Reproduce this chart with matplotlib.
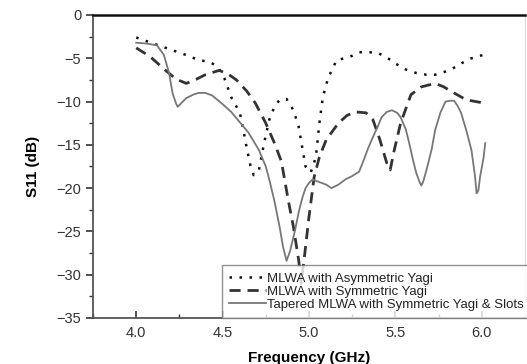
import matplotlib
matplotlib.use('Agg')
import matplotlib.pyplot as plt
from matplotlib.ticker import MultipleLocator

plt.rcParams['font.family'] = ['Liberation Sans', 'DejaVu Sans']

# MLWA with Asymmetric Yagi (dotted)
f_asym = [4.0, 4.1, 4.2, 4.3, 4.36, 4.42, 4.47, 4.51, 4.55, 4.60, 4.62, 4.64, 4.66, 4.68,
          4.71, 4.74, 4.77, 4.80, 4.83, 4.87, 4.91, 4.94, 4.96, 4.98, 5.01, 5.04, 5.06,
          5.08, 5.11, 5.16, 5.23, 5.29, 5.35, 5.40, 5.45, 5.50, 5.56, 5.62, 5.68, 5.73,
          5.78, 5.83, 5.88, 5.94, 6.01]
s_asym = [-2.6, -3.3, -4.0, -4.7, -5.2, -5.4, -5.9, -7.3, -9.5, -11.3, -13.3, -15.4, -17.3, -18.5,
          -17.9, -14.8, -12.1, -10.6, -9.8, -9.7, -11.0, -12.9, -15.2, -17.5, -18.2, -16.4, -12.5,
          -9.5, -7.3, -5.2, -4.9, -4.3, -4.3, -4.4, -4.9, -5.6, -6.3, -6.7, -6.9, -6.9,
          -6.6, -6.2, -5.6, -5.0, -4.6]

# MLWA with Symmetric Yagi (dashed)
f_sym = [4.0, 4.08, 4.17, 4.23, 4.29, 4.35, 4.40, 4.48, 4.53, 4.58, 4.64, 4.69, 4.75,
         4.80, 4.84, 4.88, 4.91, 4.94, 4.955, 4.98, 5.0, 5.03, 5.06, 5.10, 5.17, 5.22, 5.27, 5.33,
         5.37, 5.41, 5.45, 5.47, 5.49, 5.53, 5.59, 5.65, 5.73, 5.78, 5.83, 5.91, 6.02]
s_sym = [-3.8, -4.8, -6.4, -7.4, -7.9, -7.4, -6.9, -6.4, -6.8, -7.5, -8.8, -10.2, -12.5,
         -14.8, -16.9, -21.4, -24.5, -28.3, -31.0, -26.8, -23.3, -18.7, -16.4, -14.4, -12.5, -11.6, -11.2, -11.3,
         -12.1, -14.4, -17.1, -17.9, -15.9, -12.5, -9.2, -8.3, -7.9, -8.3, -8.9, -9.8, -10.2]

# Tapered MLWA with Symmetric Yagi & Slots (solid)
f_tap = [4.0, 4.06, 4.12, 4.16, 4.19, 4.21, 4.23, 4.24, 4.26, 4.29, 4.33, 4.36, 4.40,
         4.44, 4.50, 4.55, 4.60, 4.65, 4.71, 4.75, 4.77, 4.80, 4.83, 4.85, 4.87,
         4.89, 4.92, 4.94, 4.96, 4.98, 5.0, 5.02, 5.06, 5.10, 5.13, 5.17, 5.21, 5.25,
         5.29, 5.31, 5.34, 5.37, 5.40, 5.42, 5.45, 5.48, 5.51, 5.53, 5.56, 5.58, 5.60,
         5.62, 5.64, 5.65, 5.66, 5.68, 5.71, 5.73, 5.76, 5.79, 5.82, 5.84, 5.86, 5.88,
         5.91, 5.94, 5.96, 5.97, 5.98, 5.99, 6.01, 6.02]
s_tap = [-3.2, -3.3, -3.5, -4.6, -6.7, -9.0, -10.2, -10.6, -10.2, -9.6, -9.2, -9.0, -9.0,
         -9.3, -10.3, -11.2, -12.4, -13.6, -15.6, -17.5, -19.0, -21.5, -24.5, -26.8, -28.4,
         -27.3, -24.8, -22.8, -21.2, -20.0, -19.4, -19.0, -19.3, -19.6, -20.0, -19.6, -19.0, -18.6,
         -18.1, -17.1, -15.5, -14.1, -12.8, -11.8, -11.2, -11.0, -11.3, -11.8, -13.2, -14.8, -16.6,
         -18.2, -19.3, -19.7, -19.3, -17.9, -15.5, -13.3, -11.3, -10.0, -9.9, -9.9, -10.5, -11.3,
         -13.3, -15.6, -18.5, -20.6, -20.3, -18.7, -16.5, -14.8]

labels = ['MLWA with Asymmetric Yagi', 'MLWA with Symmetric Yagi',
          'Tapered MLWA with Symmetric Yagi & Slots']

fig = plt.figure(figsize=(5.27, 3.64), dpi=100)
ax = fig.add_axes([0.1765, 0.1264, 0.8197, 0.8324])

ax.plot(f_asym, s_asym, color='#111111', linestyle=(0, (1, 3)), linewidth=1.8,
        dash_capstyle='butt', label=labels[0])
ax.plot(f_sym, s_sym, color='#333333', linestyle=(0, (4, 2.5)), linewidth=2.0,
        label=labels[1])
ax.plot(f_tap, s_tap, color='#777777', linestyle='-', linewidth=1.3, label=labels[2])

ax.set_xlim(3.75, 6.25)
ax.set_ylim(-35, 0)
ax.xaxis.set_major_locator(MultipleLocator(0.5))
ax.xaxis.set_minor_locator(MultipleLocator(0.25))
ax.yaxis.set_major_locator(MultipleLocator(5))
ax.yaxis.set_minor_locator(MultipleLocator(2.5))
ax.set_xticks([4.0, 4.5, 5.0, 5.5, 6.0])
ax.set_xticklabels(['4.0', '4.5', '5.0', '5.5', '6.0'])

ax.tick_params(axis='x', which='both', direction='in', top=False, colors='#333333',
               labelsize=10.5, pad=6)
ax.tick_params(axis='x', which='major', length=5, width=1.2)
ax.tick_params(axis='x', which='minor', length=3, width=1.0)
ax.tick_params(axis='y', which='both', direction='out', right=False, colors='#333333',
               labelsize=10.5)
ax.tick_params(axis='y', which='major', length=5, width=1.2)
ax.tick_params(axis='y', which='minor', length=3, width=1.0)

ax.spines['top'].set_linewidth(1.8)
ax.spines['top'].set_color('#111111')
ax.spines['left'].set_color('#555555')
ax.spines['left'].set_linewidth(1.3)
ax.spines['bottom'].set_color('#555555')
ax.spines['bottom'].set_linewidth(1.3)
ax.spines['right'].set_color('#dddddd')
ax.spines['right'].set_linewidth(0.8)

ax.set_xlabel('Frequency (GHz)', fontsize=11, fontweight='bold', labelpad=8)
ax.set_ylabel('S11 (dB)', fontsize=11, fontweight='bold', labelpad=12)

leg = ax.legend(loc='lower right', fontsize=9.5, frameon=True, fancybox=False,
                borderaxespad=0.0, handlelength=2.8, handletextpad=0.1,
                labelspacing=0.05, borderpad=0.55, bbox_to_anchor=(1.015, 0.0))
leg.get_frame().set_edgecolor('#777777')
leg.get_frame().set_linewidth(1.0)
for t in leg.get_texts():
    t.set_color('#222222')

plt.savefig('out.png', dpi=100, facecolor='white')
plt.close()
